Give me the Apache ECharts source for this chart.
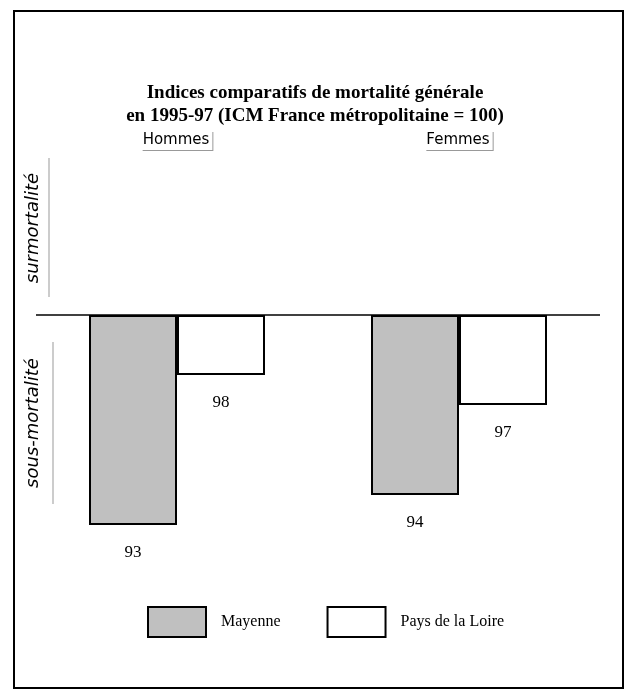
<!DOCTYPE html>
<html>
<head>
<meta charset="utf-8">
<script src="https://cdn.jsdelivr.net/npm/echarts@6/dist/echarts.min.js"></script>
<style>
  html, body { margin: 0; padding: 0; background: #fff; }
  #chart { width: 630px; height: 695px; }
</style>
</head>
<body>
<div id="chart"></div>
<script>
// données (ICM, France métropolitaine = 100)
var sexes = ['Hommes', 'Femmes'];
var mayenne = [93, 94];
var paysDeLaLoire = [98, 97];
var reference = 100;

// écart à la référence : les barres partent de la ligne 100
function ecart(arr) {
  return arr.map(function (v) { return v - reference; });
}

var serif = 'Liberation Serif';

var chart = echarts.init(document.getElementById('chart'));

var labelOpt = {
  show: true,
  position: 'bottom',
  distance: 19,
  color: '#000',
  fontFamily: serif,
  fontSize: 17,
  formatter: function (p) { return p.value + reference; }
};

var option = {
  backgroundColor: '#fff',
  animation: false,
  title: {
    text: 'Indices comparatifs de mortalité générale\nen 1995-97 (ICM France métropolitaine = 100)',
    left: 'center',
    top: 77,
    textStyle: {
      fontFamily: serif,
      fontWeight: 'bold',
      fontSize: 19,
      lineHeight: 23,
      color: '#000'
    }
  },
  legend: {
    data: ['Mayenne', 'Pays de la Loire'],
    left: 147,
    top: 606,
    padding: 0,
    itemWidth: 58,
    itemHeight: 30,
    itemGap: 46,
    icon: 'rect',
    textStyle: {
      fontFamily: serif,
      fontSize: 16,
      color: '#000',
      padding: [0, 0, 0, 10]
    }
  },
  grid: {
    left: 36,
    right: 30,
    top: 165,
    height: 390
  },
  xAxis: {
    type: 'category',
    position: 'top',
    data: sexes,
    axisLine: { show: false },
    axisTick: { show: false },
    axisLabel: {
      margin: 15,
      fontFamily: 'DejaVu Sans',
      fontSize: 15,
      color: '#000',
      backgroundColor: '#fff',
      padding: [2, 3, 2, 1],
      shadowColor: '#999',
      shadowOffsetX: 1,
      shadowOffsetY: 1
    }
  },
  yAxis: {
    type: 'value',
    min: -8,
    max: 5,
    show: false
  },
  series: [
    {
      name: 'Mayenne',
      type: 'bar',
      data: ecart(mayenne),
      barWidth: 88,
      barGap: '0%',
      itemStyle: { color: '#c0c0c0', borderColor: '#000', borderWidth: 2 },
      label: labelOpt,
      markLine: {
        silent: true,
        symbol: 'none',
        label: { show: false },
        lineStyle: { color: '#000', width: 1.5, type: 'solid' },
        data: [{ yAxis: 0 }]
      }
    },
    {
      name: 'Pays de la Loire',
      type: 'bar',
      data: ecart(paysDeLaLoire),
      barWidth: 88,
      itemStyle: { color: '#fff', borderColor: '#000', borderWidth: 2 },
      label: labelOpt
    }
  ],
  graphic: [
    {
      type: 'rect',
      shape: { x: 14, y: 11, width: 609, height: 677 },
      style: { fill: 'none', stroke: '#000', lineWidth: 2 }
    },
    {
      type: 'text',
      x: 33, y: 228,
      rotation: Math.PI / 2,
      style: {
        text: 'surmortalité',
        font: 'italic 18px DejaVu Sans',
        fill: '#000',
        align: 'center',
        verticalAlign: 'middle'
      }
    },
    {
      type: 'line',
      shape: { x1: 49, y1: 158, x2: 49, y2: 297 },
      style: { stroke: '#999', lineWidth: 1 }
    },
    {
      type: 'text',
      x: 33, y: 423,
      rotation: Math.PI / 2,
      style: {
        text: 'sous-mortalité',
        font: 'italic 18px DejaVu Sans',
        fill: '#000',
        align: 'center',
        verticalAlign: 'middle'
      }
    },
    {
      type: 'line',
      shape: { x1: 53, y1: 342, x2: 53, y2: 504 },
      style: { stroke: '#999', lineWidth: 1 }
    }
  ]
};

chart.setOption(option);
</script>
</body>
</html>
